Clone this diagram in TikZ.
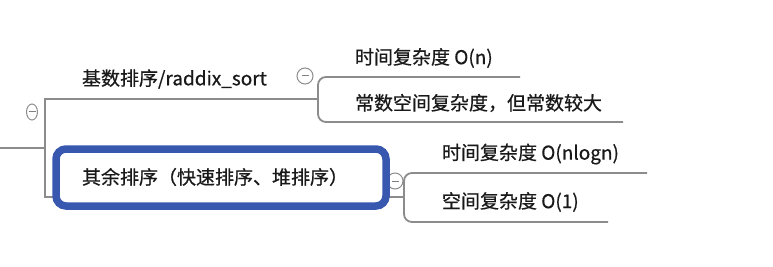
\documentclass[tikz,border=0pt]{standalone}
\usepackage{fontspec}
\newfontfamily\cjk[FakeBold=0.6]{Noto Sans CJK SC}
\usetikzlibrary{positioning,shapes.geometric}
\definecolor{focusblue}{RGB}{56,88,176}

\begin{document}
\begin{tikzpicture}[x=1pt, y=-1pt,
		every node/.style = {
			font=\cjk\fontsize{19}{22}\selectfont,
			text=black!90, anchor=west,
			inner sep=0pt, outer sep=0pt
		},
		branch/.style = {draw=black!45, line width=1.8pt},
		fold/.style = {
			ellipse, draw=black!45, line width=1pt, fill=white,
			minimum width=16pt, minimum height=16pt, anchor=center,
			path picture={\draw[black!50, line width=1pt]
				([xshift=-3.5pt]path picture bounding box.center) --
				([xshift=3.5pt]path picture bounding box.center);}
		},
		focus/.style = {draw=focusblue, line width=7.5pt, rounded corners=10pt, fill=white}
		]
		\useasboundingbox (0,0) rectangle (773,267);
		%\draw (0,0) grid[step=50] (773,267);
		\coordinate (root) at (0,148);
		\coordinate (fork) at (45,148);
		\coordinate (b1) at (318,99);
		\coordinate (b2) at (404,197);
		\coordinate (time1end) at (520,77);
		\coordinate (space1end) at (623,122);
		\coordinate (time2end) at (647,173);
		\coordinate (space2end) at (608,222);
		
		\draw[branch] (root) -- (fork);
		\draw[branch] (fork) |- (b1);
		\draw[branch] (fork) |- (b2);
		\draw[branch, rounded corners=8] (time1end) -| (b1) |- (space1end);
		\draw[branch, rounded corners=8] (time2end) -| (b2) |- (space2end);
		
		\node[fold, minimum width=11pt] (fold0) at (32,112) {};
		\node[fold] (fold1) at (305,76) {};
		\node[fold] (fold2) at (395,181) {};
		\draw[focus] (56,149) rectangle (386,206);
		
		\node (radix) at (82,79) {基数排序/raddix\_sort};
		\node (rest) at (82,177) {其余排序（快速排序、堆排序）};
		\node (time1) at (355,58) {时间复杂度 O(n)};
		\node (space1) at (355,103) {常数空间复杂度，但常数较大};
		\node (time2) at (442,154) {时间复杂度 O(nlogn)};
		\node (space2) at (442,202) {空间复杂度 O(1)};
	\end{tikzpicture}
\end{document}
